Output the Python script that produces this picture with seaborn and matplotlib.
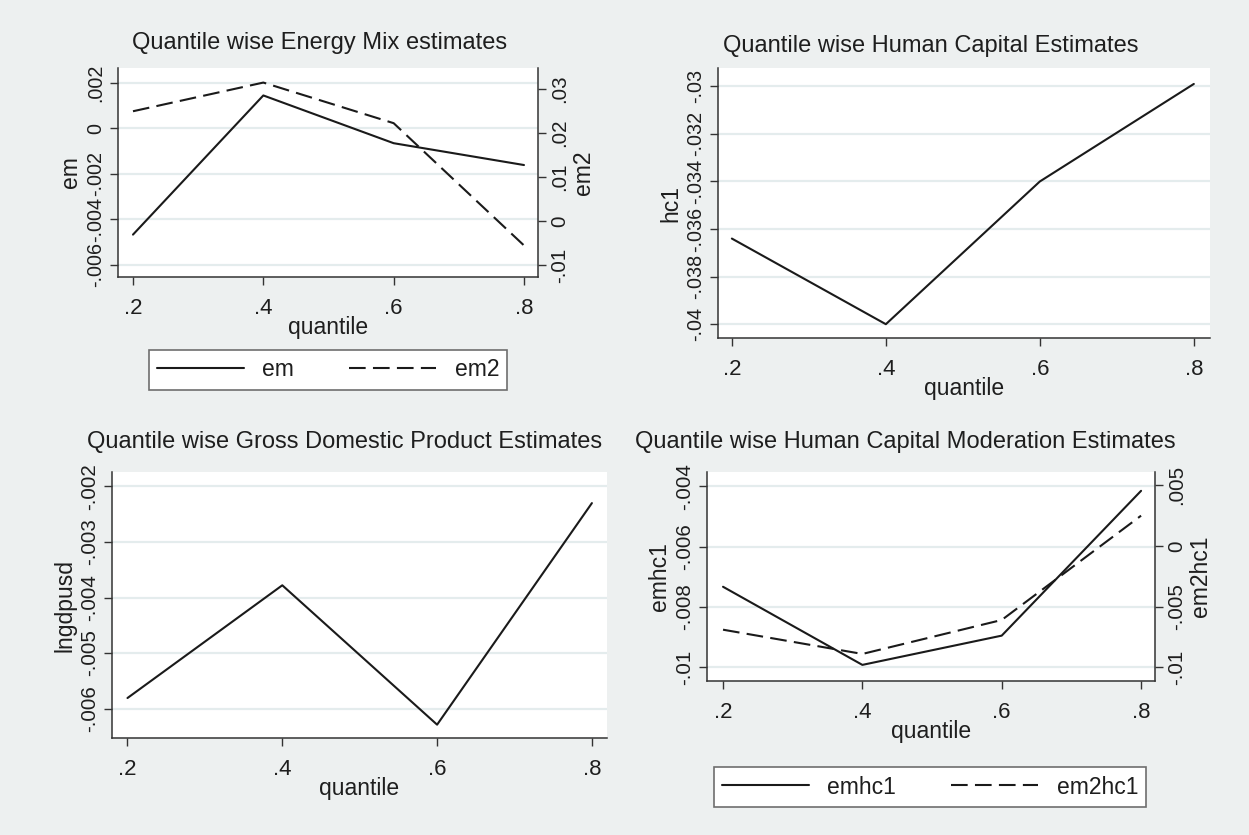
import matplotlib
matplotlib.use("Agg")
import matplotlib.pyplot as plt
from matplotlib.lines import Line2D
from matplotlib.ticker import FixedLocator, FuncFormatter
import seaborn as sns
import pandas as pd

# ---- data -------------------------------------------------------------
quantile = [0.2, 0.4, 0.6, 0.8]
x_ticks = [0.2, 0.4, 0.6, 0.8]

em = [-0.00468, 0.00144, -0.00066, -0.00162]
em2 = [0.0249, 0.0314, 0.0222, -0.0055]
hc1 = [-0.0364, -0.0400, -0.0340, -0.0299]
lngdpusd = [-0.00581, -0.00378, -0.00629, -0.00230]
emhc1 = [-0.00733, -0.00992, -0.00895, -0.00415]
em2hc1 = [-0.0069, -0.0089, -0.0061, 0.0025]

em_ticks = [-0.006, -0.004, -0.002, 0.0, 0.002]
em2_ticks = [-0.01, 0.0, 0.01, 0.02, 0.03]
hc1_ticks = [-0.04, -0.038, -0.036, -0.034, -0.032, -0.03]
gdp_ticks = [-0.006, -0.005, -0.004, -0.003, -0.002]
emhc1_ticks = [-0.01, -0.008, -0.006, -0.004]
em2hc1_ticks = [-0.01, -0.005, 0.0, 0.005]

titles = [
    "Quantile wise Energy Mix estimates",
    "Quantile wise Human Capital Estimates",
    "Quantile wise Gross Domestic Product Estimates",
    "Quantile wise Human Capital Moderation Estimates",
]

# ---- style ------------------------------------------------------------
sns.set_theme(style="white")
plt.rcParams["font.family"] = ["Liberation Sans", "DejaVu Sans"]
TXT = "#1e1e1e"
BG = "#EDF0F0"
GRID = "#E4ECED"
LINE = "#1a1a1a"
AXC = "#333333"
FS = 16.5
FS_XTICK = 16
FS_YTICK = 14.8
FS_TITLE = 17
DASH = (8, 3.5)

W, H = 1249, 835
fig = plt.figure(figsize=(W / 100, H / 100), dpi=100, facecolor=BG)


def stata_fmt(v, _pos=None):
    if abs(v) < 1e-12:
        return "0"
    s = f"{v:.3f}".rstrip("0")
    return s.replace("0.", ".")


def px_axes(left, top, right, bottom):
    return fig.add_axes([left / W, 1 - bottom / H, (right - left) / W, (bottom - top) / H])


def style_left(ax, yticks, ylim, xlim, ylabel, ytick_size=FS_YTICK):
    ax.set_facecolor("white")
    ax.grid(False)
    ax.set_xlim(*xlim)
    ax.set_ylim(*ylim)
    ax.xaxis.set_major_locator(FixedLocator(x_ticks))
    ax.xaxis.set_major_formatter(FuncFormatter(lambda v, p: stata_fmt(round(v, 1))))
    ax.yaxis.set_major_locator(FixedLocator(yticks))
    ax.yaxis.set_major_formatter(FuncFormatter(stata_fmt))
    for t in yticks:
        ax.axhline(t, color=GRID, lw=1.6, zorder=0)
    for side in ("top", "right"):
        ax.spines[side].set_visible(False)
    for side in ("left", "bottom"):
        ax.spines[side].set_color(AXC)
        ax.spines[side].set_linewidth(1.1)
    ax.tick_params(axis="both", direction="out", length=6, width=1.0, color=AXC,
                   labelcolor=TXT, bottom=True, left=True)
    ax.tick_params(axis="x", pad=9, labelsize=FS_XTICK)
    ax.tick_params(axis="y", labelrotation=90, pad=3, labelsize=ytick_size)
    for t in ax.get_yticklabels():
        t.set_va("center")
    ax.set_xlabel("quantile", fontsize=FS, color=TXT, labelpad=-2)
    ax.set_ylabel(ylabel, fontsize=FS, color=TXT, labelpad=3)


def right_axis(ax, yticks, ylim):
    rx = ax.twinx()
    rx.grid(False)
    rx.set_ylim(*ylim)
    rx.yaxis.set_major_locator(FixedLocator(yticks))
    rx.yaxis.set_major_formatter(FuncFormatter(stata_fmt))
    for side in ("top", "left", "bottom"):
        rx.spines[side].set_visible(False)
    rx.spines["right"].set_color(AXC)
    rx.spines["right"].set_linewidth(1.1)
    rx.tick_params(axis="y", direction="out", length=6, width=1.0, color=AXC, right=True,
                   labelsize=FS_YTICK, labelcolor=TXT, labelrotation=90, pad=3)
    for lab in rx.get_yticklabels():
        lab.set_va("center")
    return rx


def place_title(text, cx, cy):
    fig.text(cx / W, 1 - cy / H, text, fontsize=FS_TITLE, color=TXT, ha="center", va="center")


def add_legend(labels, cx, cy):
    handles = [Line2D([], [], color=LINE, lw=1.5),
               Line2D([], [], color=LINE, lw=1.5, dashes=DASH)]
    leg = fig.legend(handles, labels, loc="center", bbox_to_anchor=(cx / W, 1 - cy / H),
                     ncol=2, fontsize=FS, frameon=True, fancybox=False, framealpha=1,
                     edgecolor="#6e6e6e", handlelength=3.8, columnspacing=2.4,
                     handletextpad=0.8, borderpad=0.35, borderaxespad=0,
                     labelcolor=TXT)
    leg.get_frame().set_linewidth(1.2)
    return leg


def draw(ax, values, dashed=False):
    df = pd.DataFrame({"quantile": quantile, "value": values})
    kw = dict(dashes=DASH) if dashed else {}
    sns.lineplot(data=df, x="quantile", y="value", ax=ax, color=LINE, lw=1.5,
                 legend=False, **kw)


# ---- top-left: energy mix (two axes) ------------------------------------
ax1 = px_axes(118, 68, 538, 277)
draw(ax1, em)
style_left(ax1, em_ticks, (-0.006544, 0.002647), (0.177, 0.8215), "em", ytick_size=14.2)
ax1r = right_axis(ax1, em2_ticks, (-0.01265, 0.0347))
draw(ax1r, em2, dashed=True)
ax1r.set_ylabel("em2", fontsize=FS, color=TXT, labelpad=2)
ax1r.set_ylim(-0.01265, 0.0347)

# ---- top-right: human capital -------------------------------------------
ax2 = px_axes(718, 68, 1210, 338)
draw(ax2, hc1)
style_left(ax2, hc1_ticks, (-0.04058, -0.02923), (0.182, 0.821), "hc1", ytick_size=14.2)

# ---- bottom-left: GDP ---------------------------------------------------
ax3 = px_axes(112, 472, 607, 738)
draw(ax3, lngdpusd)
style_left(ax3, gdp_ticks, (-0.00653, -0.00174), (0.18, 0.8195), "lngdpusd")

# ---- bottom-right: moderation (two axes) --------------------------------
ax4 = px_axes(707, 472, 1155, 681)
draw(ax4, emhc1)
style_left(ax4, emhc1_ticks, (-0.010454, -0.003526), (0.177, 0.820), "emhc1")
ax4r = right_axis(ax4, em2hc1_ticks, (-0.01113, 0.0061))
draw(ax4r, em2hc1, dashed=True)
ax4r.set_ylabel("em2hc1", fontsize=FS, color=TXT, labelpad=2)
ax4r.set_ylim(-0.01113, 0.0061)

place_title(titles[0], 320, 43)
place_title(titles[1], 931, 46)
place_title(titles[2], 345, 442)
place_title(titles[3], 905, 442)

add_legend(["em", "em2"], 328, 370)
add_legend(["emhc1", "em2hc1"], 930, 787)

fig.savefig("out.png", dpi=100, facecolor=BG)
